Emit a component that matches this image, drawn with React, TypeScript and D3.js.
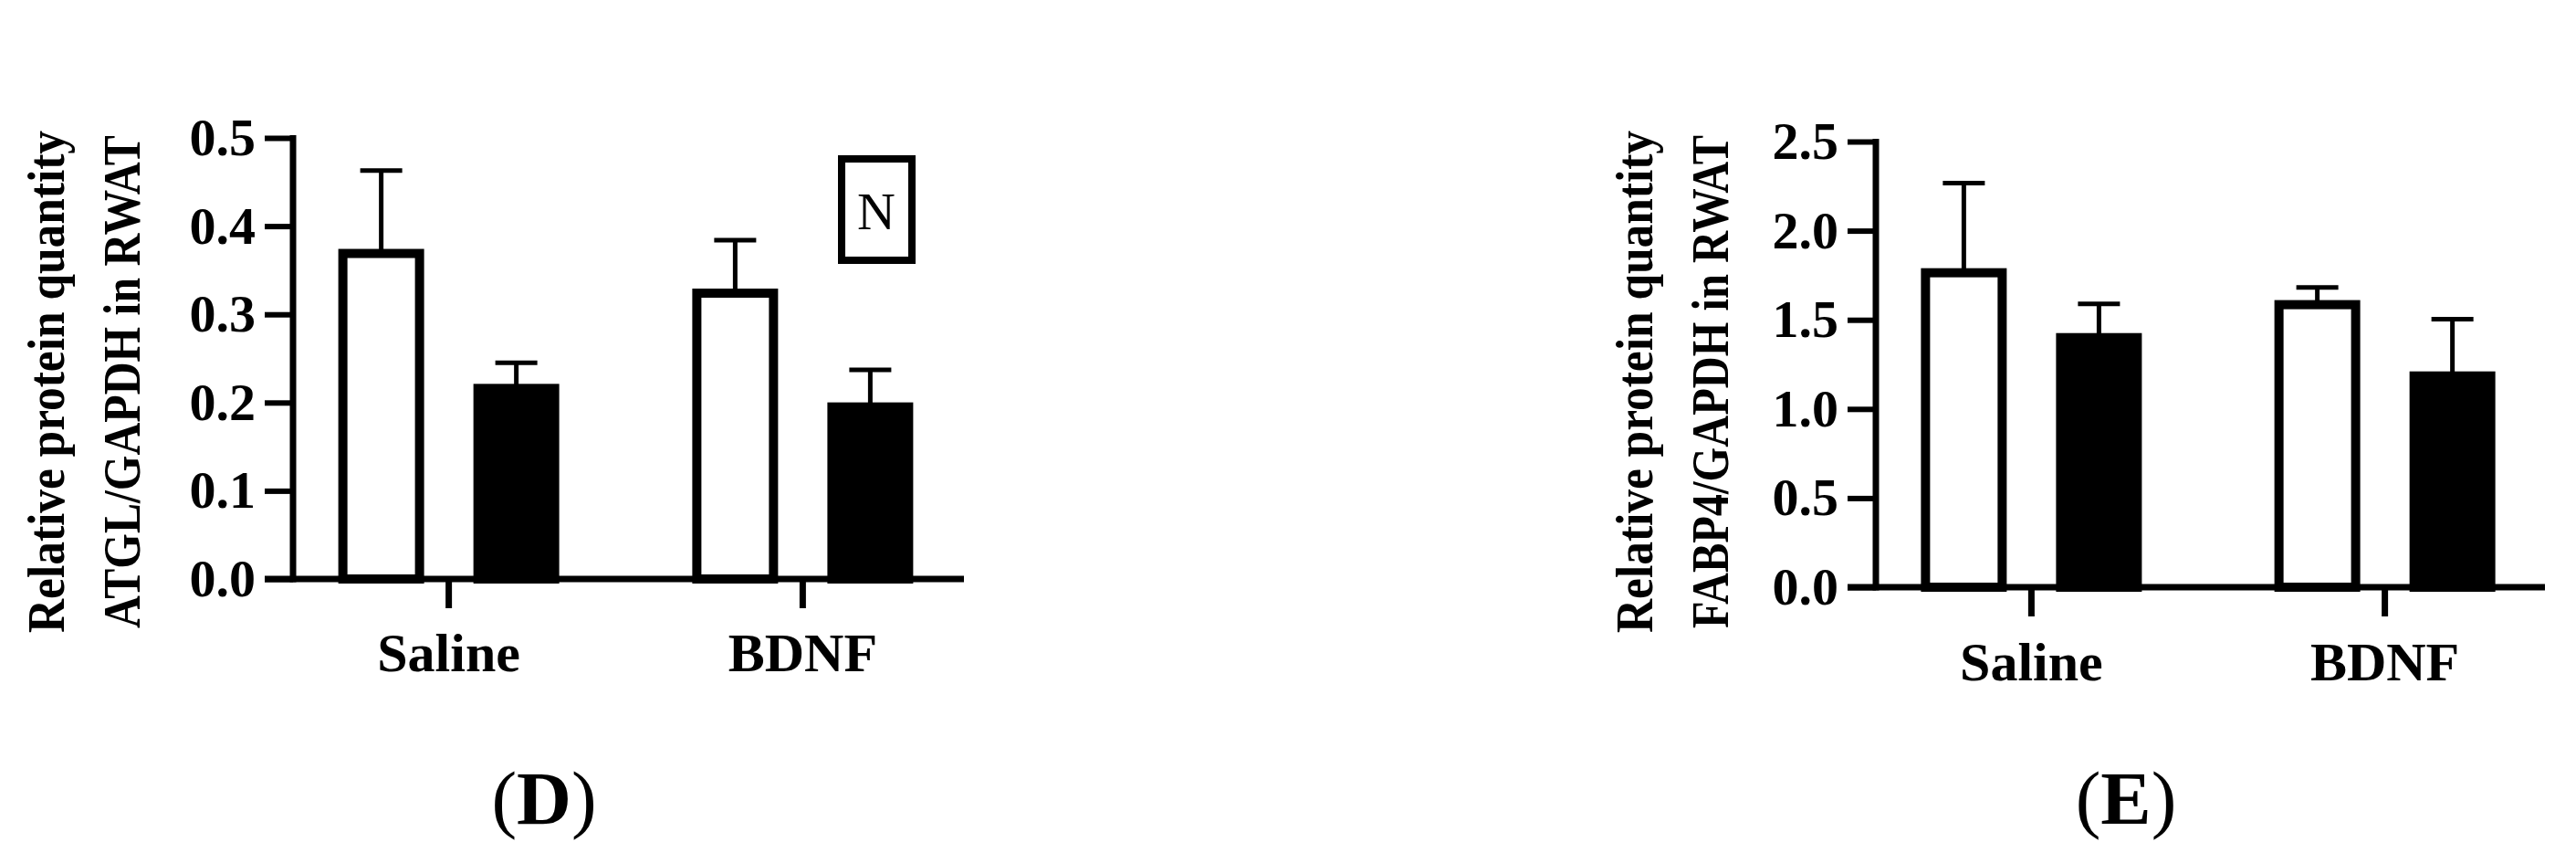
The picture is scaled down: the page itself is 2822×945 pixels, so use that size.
import React, { useEffect, useRef } from "react";
import * as d3 from "d3";

// --- Data ---
const groups = ["Saline", "BDNF"];
const seriesKeys = ["open", "filled"];

// (D) ATGL/GAPDH
const atglOpen = [0.369, 0.324];
const atglOpenErr = [0.094, 0.06];
const atglFilled = [0.216, 0.195];
const atglFilledErr = [0.029, 0.042];
const atglTicks = [0, 0.1, 0.2, 0.3, 0.4, 0.5];

// (E) FABP4/GAPDH
const fabpOpen = [1.764, 1.585];
const fabpOpenErr = [0.503, 0.097];
const fabpFilled = [1.4, 1.185];
const fabpFilledErr = [0.19, 0.318];
const fabpTicks = [0, 0.5, 1.0, 1.5, 2.0, 2.5];

const FONT = "'Liberation Serif', 'Times New Roman', serif";

type PanelCfg = {
  left: number;
  right: number;
  axisEnd: number;
  top: number;
  bottom: number;
  max: number;
  ticks: number[];
  openVals: number[];
  openErr: number[];
  filledVals: number[];
  filledErr: number[];
  label1: string;
  label2: string;
  label1X: number;
  label2X: number;
  labelY: number;
  labelBase: number;
  panel: string;
  panelX: number;
  showN: boolean;
};

function drawPanel(svg: any, cfg: PanelCfg) {
  const stroke = 7;
  const barStroke = 10;

  const y = d3.scaleLinear().domain([0, cfg.max]).range([cfg.bottom, cfg.top]);
  const x0 = d3
    .scalePoint()
    .domain(groups)
    .range([cfg.left, cfg.right])
    .padding(0.44);
  const x1 = d3
    .scaleBand()
    .domain(seriesKeys)
    .range([-121, 121])
    .paddingInner(0.365);

  const rows = groups.flatMap((g, i) => [
    { group: g, key: "open", value: cfg.openVals[i], err: cfg.openErr[i] },
    { group: g, key: "filled", value: cfg.filledVals[i], err: cfg.filledErr[i] },
  ]);

  const g = svg.append("g");

  // Error bars (upper whisker only)
  rows.forEach((d) => {
    const cx = (x0(d.group) as number) + (x1(d.key) as number) + x1.bandwidth() / 2;
    g.append("line")
      .attr("x1", cx)
      .attr("x2", cx)
      .attr("y1", y(d.value))
      .attr("y2", y(d.value + d.err))
      .attr("stroke", "#000")
      .attr("stroke-width", 5);
    g.append("line")
      .attr("x1", cx - 23)
      .attr("x2", cx + 23)
      .attr("y1", y(d.value + d.err))
      .attr("y2", y(d.value + d.err))
      .attr("stroke", "#000")
      .attr("stroke-width", 5);
  });

  // Bars
  g.selectAll(".bar")
    .data(rows)
    .join("rect")
    .attr("class", "bar")
    .attr("x", (d: any) => (x0(d.group) as number) + (x1(d.key) as number) + barStroke / 2)
    .attr("width", x1.bandwidth() - barStroke)
    .attr("y", (d: any) => y(d.value))
    .attr("height", (d: any) => y(0) - y(d.value))
    .attr("fill", (d: any) => (d.key === "open" ? "#fff" : "#000"))
    .attr("stroke", "#000")
    .attr("stroke-width", barStroke);

  // Y axis
  const yAxis = g
    .append("g")
    .attr("transform", `translate(${cfg.left},0)`)
    .call(
      d3
        .axisLeft(y)
        .tickValues(cfg.ticks)
        .tickSize(31)
        .tickPadding(10)
        .tickFormat(d3.format(".1f"))
    );
  yAxis.select(".domain").remove();
  yAxis.selectAll("line").attr("stroke", "#000").attr("stroke-width", 6);
  yAxis
    .selectAll("text")
    .attr("fill", "#000")
    .style("font-family", FONT)
    .style("font-weight", "bold")
    .style("font-size", "58px");

  g.append("line")
    .attr("x1", cfg.left)
    .attr("x2", cfg.left)
    .attr("y1", y(cfg.max) - 3)
    .attr("y2", y(0) + 3.5)
    .attr("stroke", "#000")
    .attr("stroke-width", stroke);

  // X axis
  g.append("line")
    .attr("x1", cfg.left - 31)
    .attr("x2", cfg.axisEnd)
    .attr("y1", y(0))
    .attr("y2", y(0))
    .attr("stroke", "#000")
    .attr("stroke-width", stroke);

  groups.forEach((grp) => {
    const cx = x0(grp) as number;
    g.append("line")
      .attr("x1", cx)
      .attr("x2", cx)
      .attr("y1", y(0))
      .attr("y2", y(0) + 32)
      .attr("stroke", "#000")
      .attr("stroke-width", stroke);
    g.append("text")
      .attr("x", cx)
      .attr("y", cfg.labelBase)
      .attr("text-anchor", "middle")
      .style("font-family", FONT)
      .style("font-weight", "bold")
      .style("font-size", "60px")
      .text(grp);
  });

  // Y axis title (two lines)
  [
    { t: cfg.label1, x: cfg.label1X, len: 550 },
    { t: cfg.label2, x: cfg.label2X, len: 540 },
  ].forEach((l) => {
    g.append("text")
      .attr("transform", `translate(${l.x},${cfg.labelY}) rotate(-90)`)
      .attr("text-anchor", "middle")
      .attr("textLength", l.len)
      .attr("lengthAdjust", "spacingAndGlyphs")
      .style("font-family", FONT)
      .style("font-weight", "bold")
      .style("font-size", "57px")
      .text(l.t);
  });

  // "N" box
  if (cfg.showN) {
    g.append("rect")
      .attr("x", 922)
      .attr("y", 174)
      .attr("width", 77)
      .attr("height", 111)
      .attr("fill", "none")
      .attr("stroke", "#000")
      .attr("stroke-width", 8);
    g.append("text")
      .attr("x", 960)
      .attr("y", 251)
      .attr("text-anchor", "middle")
      .style("font-family", FONT)
      .style("font-size", "58px")
      .text("N");
  }

  // Panel label
  const pl = g
    .append("text")
    .attr("x", cfg.panelX)
    .attr("y", 902)
    .attr("text-anchor", "middle")
    .style("font-family", FONT)
    .style("font-size", "83px");
  pl.append("tspan").text("(");
  pl.append("tspan").style("font-weight", "bold").text(cfg.panel);
  pl.append("tspan").text(")");
}

const App = () => {
  const svgRef = useRef<SVGSVGElement>(null);

  useEffect(() => {
    const svg = d3.select(svgRef.current);
    svg.selectAll("*").remove();

    svg
      .append("rect")
      .attr("width", 2822)
      .attr("height", 945)
      .attr("fill", "#fff");

    drawPanel(svg, {
      left: 321,
      right: 1050,
      axisEnd: 1056,
      top: 151,
      bottom: 634,
      max: 0.5,
      ticks: atglTicks,
      openVals: atglOpen,
      openErr: atglOpenErr,
      filledVals: atglFilled,
      filledErr: atglFilledErr,
      label1: "Relative protein quantity",
      label2: "ATGL/GAPDH in RWAT",
      label1X: 70,
      label2X: 153,
      labelY: 418,
      labelBase: 735,
      panel: "D",
      panelX: 596,
      showN: true,
    });

    drawPanel(svg, {
      left: 2055,
      right: 2783,
      axisEnd: 2788,
      top: 155,
      bottom: 643,
      max: 2.5,
      ticks: fabpTicks,
      openVals: fabpOpen,
      openErr: fabpOpenErr,
      filledVals: fabpFilled,
      filledErr: fabpFilledErr,
      label1: "Relative protein quantity",
      label2: "FABP4/GAPDH in RWAT",
      label1X: 1810,
      label2X: 1893,
      labelY: 418,
      labelBase: 745,
      panel: "E",
      panelX: 2329,
      showN: false,
    });
  }, []);

  return (
    <svg
      ref={svgRef}
      width={2822}
      height={945}
      style={{ position: "absolute", left: 0, top: 0, display: "block" }}
    ></svg>
  );
};

export default App;
